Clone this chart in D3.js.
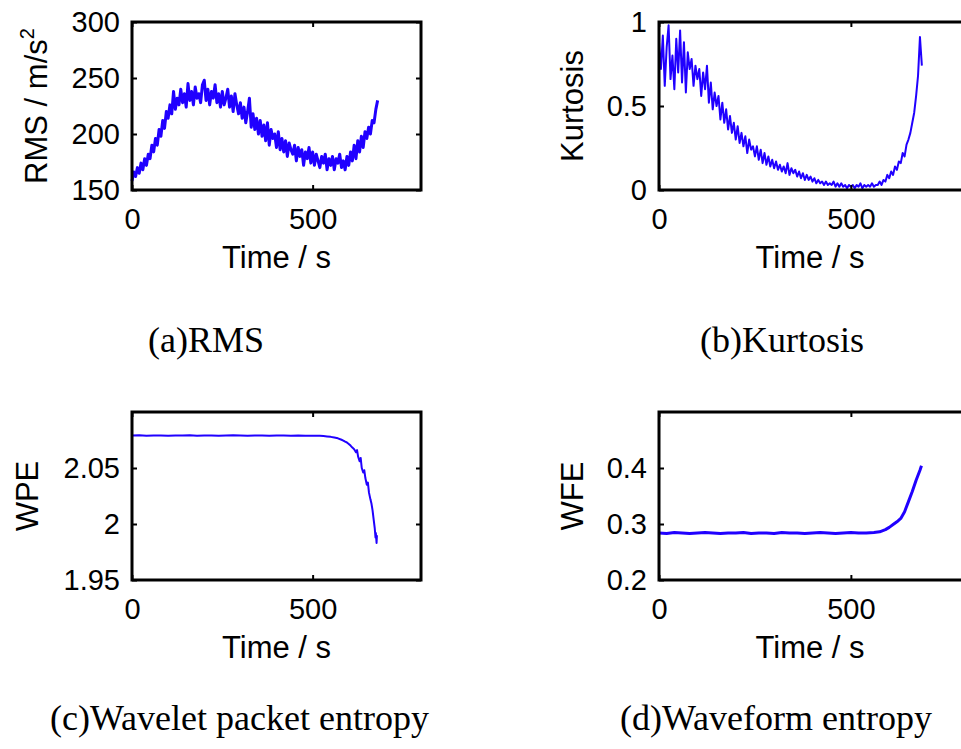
<!DOCTYPE html>
<html><head><meta charset="utf-8">
<script src="https://cdn.jsdelivr.net/npm/d3@7"></script>
<style>body{margin:0;background:#fff} svg{display:block}</style>
</head><body>
<svg id="chart" width="961" height="749"></svg>
<script>
// ---------- data ----------
const xTicks = [0, 500];

const rmsTime = d3.range(0, 681, 5);
const rmsValues = [
  158,166,162,170,165,174,168,178,172,182,
  178,190,184,196,190,204,198,212,205,220,
  214,226,218,238,222,232,226,240,228,236,
  224,245,230,238,226,242,232,236,228,244,
  248,230,240,226,238,232,244,228,236,224,
  238,226,232,240,224,234,220,236,226,218,
  228,214,224,210,220,232,206,218,204,214,
  200,212,198,208,194,210,190,204,196,200,
  188,202,186,196,184,194,180,192,186,182,
  190,176,188,180,186,172,184,178,188,174,
  184,172,182,176,170,180,174,182,168,178,
  172,180,168,178,174,182,170,176,168,180,
  172,184,176,190,178,194,184,198,188,202,
  196,206,200,212,210,222,230
];
const rmsTicks = [150, 200, 250, 300];

const kurtTime = d3.range(0, 686, 5);
const kurtValues = [
  0.88,0.72,0.92,0.62,0.85,0.98,0.66,0.80,0.60,0.90,
  0.70,0.95,0.64,0.88,0.58,0.82,0.72,0.78,0.62,0.74,
  0.66,0.72,0.56,0.70,0.60,0.74,0.52,0.64,0.48,0.58,
  0.50,0.56,0.42,0.52,0.40,0.48,0.36,0.44,0.34,0.40,
  0.30,0.38,0.28,0.34,0.26,0.32,0.22,0.30,0.24,0.26,
  0.20,0.26,0.18,0.24,0.16,0.22,0.15,0.20,0.14,0.18,
  0.13,0.17,0.12,0.15,0.11,0.14,0.10,0.16,0.09,0.13,
  0.10,0.12,0.08,0.11,0.07,0.10,0.06,0.09,0.06,0.08,
  0.05,0.07,0.04,0.06,0.04,0.05,0.03,0.05,0.03,0.04,
  0.03,0.05,0.02,0.04,0.02,0.04,0.02,0.03,0.01,0.03,
  0.02,0.03,0.01,0.03,0.02,0.04,0.01,0.03,0.02,0.03,
  0.02,0.04,0.02,0.03,0.03,0.05,0.03,0.06,0.05,0.09,
  0.07,0.11,0.09,0.14,0.12,0.17,0.16,0.22,0.20,0.27,
  0.30,0.34,0.40,0.46,0.56,0.68,0.91,0.74
];
const kurtTicks = [0, 0.5, 1];

const wpeTime = [0,20,40,60,80,100,120,140,160,180,200,220,240,260,280,300,320,340,360,380,400,420,440,460,480,500,520,
  530,540,550,560,570,580,585,590,595,600,605,610,615,620,623,626,630,633,636,640,643,646,650,653,656,660,663,666,669,672,674,675,677,678];
const wpeValues = [2.0790,2.0792,2.0789,2.0791,2.0790,2.0788,2.0791,2.0790,2.0792,2.0789,2.0790,2.0791,2.0789,2.0790,2.0792,2.0790,2.0789,2.0791,2.0790,2.0789,2.0791,2.0790,2.0788,2.0790,2.0789,2.0788,2.0787,
  2.0785,2.0782,2.0778,2.0772,2.0765,2.0752,2.0745,2.0735,2.0728,2.0715,2.0700,2.0682,2.0668,2.0640,2.0660,2.0600,2.0560,2.0590,2.0500,2.0460,2.0480,2.0410,2.0350,2.0370,2.0280,2.0220,2.0180,2.0120,2.0040,1.9960,1.9880,1.9920,1.9830,1.9900];
const wpeTicks = [1.95, 2, 2.05];

const wfeTime = [0,20,40,60,80,100,120,140,160,180,200,220,240,260,280,300,320,340,360,380,400,420,440,460,480,500,520,540,560,
  575,590,600,610,620,630,640,650,660,670,680,684];
const wfeValues = [0.284,0.283,0.285,0.284,0.283,0.284,0.285,0.284,0.283,0.284,0.284,0.285,0.283,0.284,0.284,0.283,0.285,0.284,0.284,0.283,0.284,0.285,0.284,0.283,0.284,0.285,0.284,0.284,0.285,
  0.286,0.290,0.294,0.299,0.304,0.310,0.322,0.340,0.358,0.378,0.396,0.404];
const wfeTicks = [0.2, 0.3, 0.4];

// ---------- drawing ----------
const svg = d3.select('#chart');
const lineColor = '#2000ff';

const panels = [
  {time: rmsTime, vals: rmsValues, ticks: rmsTicks, yDom: [150, 300], l: 132, r: 421, t: 22, b: 190, lw: 3,
   ylabel: 'RMS / m/s', sup: '2', ylx: 47, caption: '(a)RMS', capX: 148, capY: 352},
  {time: kurtTime, vals: kurtValues, ticks: kurtTicks, yDom: [0, 1], l: 659, r: 966, t: 22, b: 190, lw: 2,
   ylabel: 'Kurtosis', ylx: 583, caption: '(b)Kurtosis', capX: 700, capY: 352},
  {time: wpeTime, vals: wpeValues, ticks: wpeTicks, yDom: [1.95, 2.1], l: 132, r: 421, t: 412, b: 580, lw: 2,
   ylabel: 'WPE', ylx: 38, caption: '(c)Wavelet packet entropy', capX: 50, capY: 730},
  {time: wfeTime, vals: wfeValues, ticks: wfeTicks, yDom: [0.2, 0.5], l: 659, r: 966, t: 412, b: 580, lw: 3,
   ylabel: 'WFE', ylx: 583, caption: '(d)Waveform entropy', capX: 620, capY: 730}
];

const sans = '"Liberation Sans", Arial, sans-serif';

panels.forEach(p => {
  const x = d3.scaleLinear().domain([0, 800]).range([p.l, p.r]);
  const y = d3.scaleLinear().domain(p.yDom).range([p.b, p.t]);
  const g = svg.append('g');

  g.append('path')
    .datum(d3.zip(p.time, p.vals))
    .attr('d', d3.line().x(d => x(d[0])).y(d => y(d[1])))
    .attr('fill', 'none').attr('stroke', lineColor)
    .attr('stroke-width', p.lw).attr('stroke-linejoin', 'round');

  const fmt = d => String(d);
  const ax = [
    g.append('g').attr('transform', `translate(0,${p.b})`)
      .call(d3.axisBottom(x).tickValues(xTicks).tickFormat(fmt).tickSizeInner(-5).tickSizeOuter(0).tickPadding(18)),
    g.append('g').attr('transform', `translate(0,${p.t})`)
      .call(d3.axisTop(x).tickValues(xTicks).tickFormat('').tickSizeInner(-5).tickSizeOuter(0)),
    g.append('g').attr('transform', `translate(${p.l},0)`)
      .call(d3.axisLeft(y).tickValues(p.ticks).tickFormat(fmt).tickSizeInner(-5).tickSizeOuter(0).tickPadding(12)),
    g.append('g').attr('transform', `translate(${p.r},0)`)
      .call(d3.axisRight(y).tickValues(p.ticks).tickFormat('').tickSizeInner(-5).tickSizeOuter(0))
  ];
  ax.forEach(a => {
    a.select('.domain').remove();
    a.selectAll('line').attr('stroke', '#000').attr('stroke-width', 2);
    a.selectAll('text').attr('font-family', sans).attr('font-size', 29).attr('fill', '#000');
  });

  g.append('rect').attr('x', p.l).attr('y', p.t)
    .attr('width', p.r - p.l).attr('height', p.b - p.t)
    .attr('fill', 'none').attr('stroke', '#000').attr('stroke-width', 3);

  // x label
  const cx = (p.l + Math.min(p.r, 961)) / 2;
  g.append('text').attr('x', cx).attr('y', p.b + 78)
    .attr('text-anchor', 'middle').attr('font-family', sans).attr('font-size', 31)
    .text('Time / s');

  // y label
  const cy = (p.t + p.b) / 2;
  const yl = g.append('text')
    .attr('transform', `translate(${p.ylx},${cy}) rotate(-90)`)
    .attr('text-anchor', 'middle').attr('font-family', sans).attr('font-size', 31)
    .text(p.ylabel);
  if (p.sup) {
    yl.append('tspan').attr('font-size', 20).attr('dy', -13).text(p.sup);
  }

  // caption
  g.append('text').attr('x', p.capX).attr('y', p.capY)
    .attr('font-family', '"Liberation Serif", "Times New Roman", serif').attr('font-size', 36)
    .text(p.caption);
});
</script>
</body></html>
